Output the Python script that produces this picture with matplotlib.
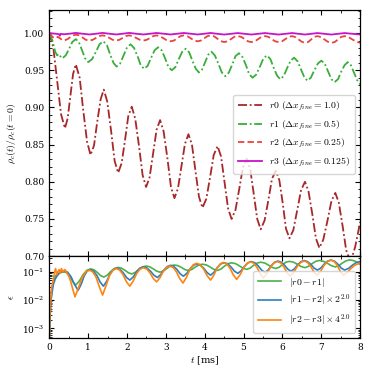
import matplotlib
matplotlib.use("Agg")
import matplotlib.pyplot as plt
from matplotlib.ticker import MultipleLocator, LogLocator, NullFormatter

# ---------------- data ----------------
r0_t = [0.00, 0.10, 0.20, 0.30, 0.40, 0.47, 0.54, 0.61, 0.68, 0.78, 0.87, 0.97, 1.06, 1.15, 1.23, 1.32,
        1.40, 1.49, 1.59, 1.68, 1.77, 1.86, 1.95, 2.03, 2.12, 2.21, 2.31, 2.40, 2.49, 2.58, 2.67, 2.76,
        2.85, 2.94, 3.04, 3.13, 3.22, 3.31, 3.40, 3.49, 3.58, 3.67, 3.76, 3.85, 3.94, 4.04, 4.14, 4.23,
        4.33, 4.42, 4.51, 4.60, 4.69, 4.79, 4.89, 4.98, 5.08, 5.17, 5.26, 5.35, 5.44, 5.54, 5.64, 5.73,
        5.83, 5.92, 6.01, 6.09, 6.18, 6.28, 6.38, 6.48, 6.58, 6.67, 6.77, 6.86, 6.95, 7.05, 7.16, 7.26,
        7.36, 7.45, 7.55, 7.64, 7.73, 7.80, 7.87, 7.94, 8.00]
r0_v = [1.000, 0.981, 0.936, 0.891, 0.872, 0.885, 0.915, 0.945, 0.958, 0.940, 0.897, 0.854, 0.836, 0.849, 0.880, 0.911,
        0.924, 0.908, 0.868, 0.828, 0.812, 0.825, 0.857, 0.888, 0.901, 0.885, 0.847, 0.809, 0.793, 0.806, 0.838, 0.870,
        0.883, 0.868, 0.831, 0.793, 0.778, 0.791, 0.821, 0.851, 0.864, 0.850, 0.815, 0.780, 0.765, 0.777, 0.807, 0.836,
        0.848, 0.834, 0.799, 0.764, 0.750, 0.762, 0.791, 0.819, 0.831, 0.817, 0.784, 0.750, 0.736, 0.748, 0.776, 0.804,
        0.815, 0.802, 0.770, 0.737, 0.724, 0.735, 0.762, 0.789, 0.800, 0.787, 0.756, 0.724, 0.711, 0.722, 0.748, 0.774,
        0.785, 0.772, 0.740, 0.708, 0.695, 0.700, 0.712, 0.730, 0.746]

r1_t = [0.00, 0.08, 0.15, 0.20, 0.24, 0.28, 0.33, 0.42, 0.51, 0.59, 0.68, 0.76, 0.84, 0.92, 1.00, 1.10,
        1.20, 1.29, 1.39, 1.48, 1.56, 1.65, 1.73, 1.82, 1.91, 2.00, 2.09, 2.18, 2.27, 2.35, 2.44, 2.53,
        2.62, 2.71, 2.80, 2.89, 2.98, 3.06, 3.15, 3.24, 3.33, 3.42, 3.51, 3.60, 3.68, 3.77, 3.85, 3.93,
        4.01, 4.09, 4.17, 4.26, 4.35, 4.44, 4.53, 4.62, 4.71, 4.79, 4.88, 4.97, 5.06, 5.14, 5.23, 5.32,
        5.42, 5.51, 5.60, 5.69, 5.77, 5.86, 5.94, 6.03, 6.12, 6.21, 6.30, 6.39, 6.47, 6.56, 6.64, 6.73,
        6.82, 6.91, 7.00, 7.09, 7.17, 7.26, 7.34, 7.43, 7.51, 7.60, 7.68, 7.76, 7.84, 7.92, 8.00]
r1_v = [1.000, 0.990, 0.975, 0.970, 0.972, 0.969, 0.966, 0.970, 0.979, 0.988, 0.992, 0.988, 0.977, 0.966, 0.961, 0.965,
        0.975, 0.985, 0.989, 0.984, 0.972, 0.960, 0.955, 0.959, 0.970, 0.981, 0.985, 0.980, 0.969, 0.957, 0.952, 0.956,
        0.967, 0.977, 0.981, 0.977, 0.966, 0.955, 0.950, 0.954, 0.965, 0.975, 0.979, 0.974, 0.963, 0.952, 0.947, 0.951,
        0.961, 0.971, 0.975, 0.970, 0.959, 0.947, 0.942, 0.947, 0.958, 0.969, 0.973, 0.968, 0.957, 0.945, 0.940, 0.944,
        0.955, 0.966, 0.970, 0.965, 0.954, 0.943, 0.938, 0.942, 0.953, 0.963, 0.967, 0.962, 0.952, 0.941, 0.936, 0.940,
        0.950, 0.959, 0.963, 0.959, 0.949, 0.938, 0.934, 0.938, 0.948, 0.957, 0.961, 0.957, 0.947, 0.937, 0.931]

r2_t = [0.00, 0.08, 0.15, 0.22, 0.30, 0.38, 0.47, 0.55, 0.62, 0.68, 0.77, 0.855, 0.94, 1.03, 1.115, 1.20,
        1.285, 1.37, 1.46, 1.545, 1.63, 1.72, 1.80, 1.885, 1.97, 2.05, 2.14, 2.235, 2.33, 2.42, 2.505, 2.59,
        2.675, 2.76, 2.85, 2.94, 3.03, 3.12, 3.205, 3.29, 3.375, 3.46, 3.55, 3.64, 3.73, 3.82, 3.90, 3.985,
        4.07, 4.15, 4.24, 4.325, 4.41, 4.50, 4.59, 4.675, 4.76, 4.85, 4.94, 5.025, 5.11, 5.20, 5.29, 5.375,
        5.46, 5.55, 5.64, 5.725, 5.81, 5.90, 5.99, 6.075, 6.16, 6.25, 6.33, 6.415, 6.50, 6.58, 6.66, 6.74,
        6.82, 6.90, 6.99, 7.08, 7.17, 7.26, 7.345, 7.43, 7.515, 7.60, 7.70, 7.80, 7.90, 8.00]
r2_v = [1.000, 0.995, 0.993, 0.995, 0.992, 0.990, 0.992, 0.995, 0.997, 0.998, 0.997, 0.994, 0.991, 0.990, 0.991, 0.9935,
        0.996, 0.997, 0.996, 0.9935, 0.991, 0.990, 0.991, 0.9935, 0.996, 0.997, 0.996, 0.9935, 0.991, 0.990, 0.991, 0.9935,
        0.996, 0.997, 0.9958, 0.993, 0.990, 0.989, 0.990, 0.993, 0.996, 0.997, 0.996, 0.993, 0.990, 0.989, 0.990, 0.993,
        0.996, 0.997, 0.9957, 0.9925, 0.9893, 0.988, 0.989, 0.992, 0.995, 0.996, 0.995, 0.992, 0.989, 0.988, 0.989, 0.992,
        0.995, 0.996, 0.995, 0.992, 0.989, 0.988, 0.989, 0.992, 0.995, 0.996, 0.9947, 0.9915, 0.9883, 0.987, 0.988, 0.9915,
        0.995, 0.996, 0.9947, 0.9915, 0.9883, 0.987, 0.988, 0.9915, 0.995, 0.996, 0.9947, 0.9915, 0.9885, 0.987]

r3_t = [0.00, 0.10, 0.20, 0.25, 0.27, 0.29, 0.38, 0.53, 0.68, 0.855, 1.03, 1.20, 1.37, 1.545, 1.72, 1.885,
        2.05, 2.235, 2.42, 2.59, 2.76, 2.94, 3.12, 3.29, 3.46, 3.64, 3.82, 3.985, 4.15, 4.325, 4.50, 4.675,
        4.85, 5.025, 5.20, 5.375, 5.55, 5.725, 5.90, 6.075, 6.25, 6.415, 6.58, 6.74, 6.90, 7.08, 7.26, 7.43,
        7.60, 7.80, 8.00]
r3_v = [1.000, 0.9995, 0.999, 0.9985, 0.9965, 0.999, 0.9985, 0.9993, 1.0003, 0.9992, 0.9982, 0.9992, 1.0003, 0.9992, 0.9982, 0.9992,
        1.0003, 0.9992, 0.9982, 0.9992, 1.0002, 0.9992, 0.9982, 0.9992, 1.0002, 0.9992, 0.9982, 0.9992, 1.0002, 0.9991, 0.9981, 0.9991,
        1.0001, 0.9991, 0.9981, 0.9991, 1.0001, 0.9991, 0.9981, 0.9991, 1.0001, 0.9991, 0.9981, 0.9991, 1.0001, 0.9991, 0.9981, 0.9991,
        1.0001, 0.9991, 0.9982]

e01_t = [0.00, 0.03, 0.06, 0.10, 0.15, 0.22, 0.30, 0.40, 0.47, 0.54, 0.61, 0.68, 0.775, 0.87, 0.965, 1.06,
         1.145, 1.23, 1.315, 1.40, 1.49, 1.585, 1.68, 1.77, 1.86, 1.945, 2.03, 2.12, 2.21, 2.305, 2.40, 2.49,
         2.58, 2.67, 2.76, 2.85, 2.94, 3.035, 3.13, 3.22, 3.31, 3.40, 3.49, 3.58, 3.67, 3.76, 3.85, 3.94,
         4.04, 4.135, 4.23, 4.33, 4.42, 4.51, 4.60, 4.69, 4.79, 4.885, 4.98, 5.08, 5.17, 5.26, 5.35, 5.44,
         5.54, 5.635, 5.73, 5.83, 5.92, 6.005, 6.09, 6.18, 6.28, 6.38, 6.48, 6.58, 6.67, 6.765, 6.86, 6.95,
         7.05, 7.155, 7.26, 7.36, 7.45, 7.545, 7.64, 7.73, 7.80, 7.87, 7.94, 8.00]
e01_v = [5e-4, 0.006, 0.020, 0.045, 0.070, 0.088, 0.096, 0.098, 0.089, 0.066, 0.043, 0.034, 0.048, 0.0805, 0.113, 0.127,
         0.118, 0.096, 0.074, 0.065, 0.076, 0.104, 0.132, 0.143, 0.134, 0.1135, 0.093, 0.084, 0.095, 0.122, 0.149, 0.160,
         0.151, 0.1285, 0.106, 0.097, 0.108, 0.1355, 0.163, 0.174, 0.165, 0.1425, 0.120, 0.111, 0.122, 0.1485, 0.175, 0.186,
         0.175, 0.149, 0.123, 0.112, 0.126, 0.160, 0.194, 0.208, 0.195, 0.165, 0.135, 0.122, 0.136, 0.1705, 0.205, 0.219,
         0.206, 0.175, 0.144, 0.131, 0.146, 0.1825, 0.219, 0.234, 0.220, 0.187, 0.154, 0.140, 0.156, 0.196, 0.236, 0.252,
         0.237, 0.2005, 0.164, 0.149, 0.166, 0.206, 0.246, 0.263, 0.255, 0.236, 0.210, 0.185]

e12_t = [0.00, 0.02, 0.05, 0.10, 0.15, 0.20, 0.28, 0.38, 0.47, 0.56, 0.65, 0.74, 0.8175, 0.895, 0.9725, 1.05,
         1.135, 1.22, 1.305, 1.39, 1.475, 1.56, 1.645, 1.73, 1.815, 1.90, 1.985, 2.07, 2.1575, 2.245, 2.3325, 2.42,
         2.51, 2.60, 2.69, 2.78, 2.865, 2.95, 3.035, 3.12, 3.2025, 3.285, 3.3675, 3.45, 3.5375, 3.625, 3.7125, 3.80,
         3.8875, 3.975, 4.0625, 4.15, 4.2375, 4.325, 4.4125, 4.50, 4.5875, 4.675, 4.7625, 4.85, 4.9375, 5.025, 5.1125, 5.20,
         5.2875, 5.375, 5.4625, 5.55, 5.6325, 5.715, 5.7975, 5.88, 5.965, 6.05, 6.135, 6.22, 6.305, 6.39, 6.475, 6.56,
         6.645, 6.73, 6.815, 6.90, 6.9875, 7.075, 7.1625, 7.25, 7.3375, 7.425, 7.5125, 7.60, 7.70, 7.80, 7.90, 8.00]
e12_v = [5e-4, 0.003, 0.012, 0.035, 0.055, 0.072, 0.095, 0.110, 0.097, 0.066, 0.035, 0.022, 0.036, 0.071, 0.106, 0.120,
         0.107, 0.0755, 0.044, 0.031, 0.046, 0.083, 0.120, 0.135, 0.123, 0.093, 0.063, 0.051, 0.065, 0.1005, 0.136, 0.150,
         0.137, 0.1065, 0.076, 0.063, 0.079, 0.1165, 0.154, 0.170, 0.155, 0.120, 0.085, 0.070, 0.088, 0.130, 0.172, 0.190,
         0.173, 0.133, 0.093, 0.076, 0.096, 0.143, 0.190, 0.210, 0.192, 0.149, 0.106, 0.088, 0.109, 0.159, 0.209, 0.230,
         0.210, 0.1625, 0.115, 0.095, 0.116, 0.1675, 0.219, 0.240, 0.220, 0.1725, 0.125, 0.105, 0.126, 0.1775, 0.229, 0.250,
         0.230, 0.1825, 0.135, 0.115, 0.136, 0.1875, 0.239, 0.260, 0.239, 0.1875, 0.136, 0.115, 0.132, 0.172, 0.213, 0.230]

e23_t = [0.00, 0.01, 0.03, 0.06, 0.10, 0.13, 0.16, 0.19, 0.22, 0.25, 0.28, 0.31, 0.35, 0.40, 0.45, 0.50,
         0.55, 0.60, 0.66, 0.7525, 0.845, 0.9375, 1.03, 1.115, 1.20, 1.285, 1.37, 1.4575, 1.545, 1.6325, 1.72, 1.8075,
         1.895, 1.9825, 2.07, 2.1575, 2.245, 2.3325, 2.42, 2.505, 2.59, 2.675, 2.76, 2.845, 2.93, 3.015, 3.10, 3.185,
         3.27, 3.355, 3.44, 3.5275, 3.615, 3.7025, 3.79, 3.88, 3.97, 4.06, 4.15, 4.2325, 4.315, 4.3975, 4.48, 4.565,
         4.65, 4.735, 4.82, 4.91, 5.00, 5.09, 5.18, 5.2625, 5.345, 5.4275, 5.51, 5.60, 5.69, 5.78, 5.87, 5.9525,
         6.035, 6.1175, 6.20, 6.29, 6.38, 6.47, 6.56, 6.6425, 6.725, 6.8075, 6.89, 6.98, 7.07, 7.16, 7.25, 7.33,
         7.41, 7.49, 7.57, 7.67, 7.77, 7.88, 8.00]
e23_v = [5e-4, 0.002, 0.008, 0.030, 0.050, 0.090, 0.130, 0.080, 0.100, 0.120, 0.090, 0.130, 0.100, 0.120, 0.090, 0.070,
         0.045, 0.025, 0.013, 0.028, 0.064, 0.100, 0.115, 0.100, 0.065, 0.030, 0.015, 0.032, 0.0725, 0.113, 0.130, 0.116,
         0.0805, 0.045, 0.031, 0.047, 0.0855, 0.124, 0.140, 0.126, 0.092, 0.058, 0.044, 0.061, 0.102, 0.143, 0.160, 0.142,
         0.100, 0.058, 0.040, 0.063, 0.120, 0.177, 0.200, 0.178, 0.1255, 0.073, 0.051, 0.075, 0.133, 0.191, 0.215, 0.191,
         0.1345, 0.078, 0.054, 0.079, 0.1395, 0.200, 0.225, 0.201, 0.143, 0.085, 0.061, 0.086, 0.1455, 0.205, 0.230, 0.207,
         0.150, 0.093, 0.070, 0.095, 0.155, 0.215, 0.240, 0.216, 0.158, 0.100, 0.076, 0.103, 0.168, 0.233, 0.260, 0.233,
         0.168, 0.103, 0.076, 0.095, 0.135, 0.178, 0.200]

top_labels = [r"$r0\ (\Delta x_{fine}=1.0)$", r"$r1\ (\Delta x_{fine}=0.5)$",
              r"$r2\ (\Delta x_{fine}=0.25)$", r"$r3\ (\Delta x_{fine}=0.125)$"]
bot_labels = [r"$|r0-r1|$", r"$|r1-r2|\times2^{2.0}$", r"$|r2-r3|\times4^{2.0}$"]

# ---------------- style ----------------
plt.rcParams["font.family"] = ["DejaVu Serif"]
plt.rcParams["mathtext.fontset"] = "cm"
plt.rcParams["font.size"] = 6.5
for ax_ in ("xtick", "ytick"):
    plt.rcParams[f"{ax_}.direction"] = "in"
    plt.rcParams[f"{ax_}.major.size"] = 3.5
    plt.rcParams[f"{ax_}.minor.size"] = 1.8
    plt.rcParams[f"{ax_}.major.width"] = 0.8
    plt.rcParams[f"{ax_}.minor.width"] = 0.6
    plt.rcParams[f"{ax_}.labelsize"] = 6.5
    plt.rcParams[f"{ax_}.minor.visible"] = True
plt.rcParams["xtick.top"] = True
plt.rcParams["ytick.right"] = True
plt.rcParams["axes.linewidth"] = 0.9

fig = plt.figure(figsize=(3.74, 3.74), dpi=100)
gs = fig.add_gridspec(2, 1, height_ratios=[3, 1], hspace=0.0,
                      left=0.132, right=0.963, top=0.973, bottom=0.096)
ax = fig.add_subplot(gs[0])
axb = fig.add_subplot(gs[1], sharex=ax)

ax.plot(r0_t, r0_v, color="#a8282a", ls=(0, (5, 1.5, 1, 1.5)), lw=1.3, label=top_labels[0])
ax.plot(r1_t, r1_v, color="#3aae3a", ls=(0, (5, 1.5, 1, 1.5)), lw=1.3, label=top_labels[1])
ax.plot(r2_t, r2_v, color="#e8443e", ls=(0, (3.5, 1.8)), lw=1.3, label=top_labels[2])
ax.plot(r3_t, r3_v, color="#c814c8", ls="-", lw=1.3, label=top_labels[3])
ax.set_xlim(0, 8)
ax.set_ylim(0.70, 1.031)
ax.yaxis.set_major_locator(MultipleLocator(0.05))
ax.yaxis.set_minor_locator(MultipleLocator(0.01))
ax.xaxis.set_major_locator(MultipleLocator(1))
ax.xaxis.set_minor_locator(MultipleLocator(0.5))
ax.tick_params(labelbottom=False)
ax.set_ylabel(r"$\rho_c(t)/\rho_c(t=0)$", fontsize=7, labelpad=3)
ax.legend(loc="center right", bbox_to_anchor=(1.0, 0.495), fontsize=7,
          handlelength=2.4, labelspacing=0.55, borderpad=0.5, framealpha=0.8)

axb.plot(e01_t, e01_v, color="#4cb04c", lw=1.2, label=bot_labels[0])
axb.plot(e12_t, e12_v, color="#2f7fba", lw=1.2, label=bot_labels[1])
axb.plot(e23_t, e23_v, color="#ff8412", lw=1.2, label=bot_labels[2])
axb.set_yscale("log")
axb.set_ylim(4.5e-4, 0.36)
axb.yaxis.set_major_locator(LogLocator(base=10, numticks=10))
axb.yaxis.set_minor_locator(LogLocator(base=10, subs=range(2, 10), numticks=10))
axb.yaxis.set_minor_formatter(NullFormatter())
axb.set_xlim(0, 8)
axb.set_xlabel(r"$t$ [ms]", fontsize=7, labelpad=2)
axb.set_ylabel(r"$\epsilon$", fontsize=7)
axb.legend(loc="lower right", fontsize=7, handlelength=2.4, labelspacing=0.45,
           borderpad=0.5, framealpha=0.8)

fig.align_ylabels([ax, axb])
fig.savefig("out.png", dpi=100)
